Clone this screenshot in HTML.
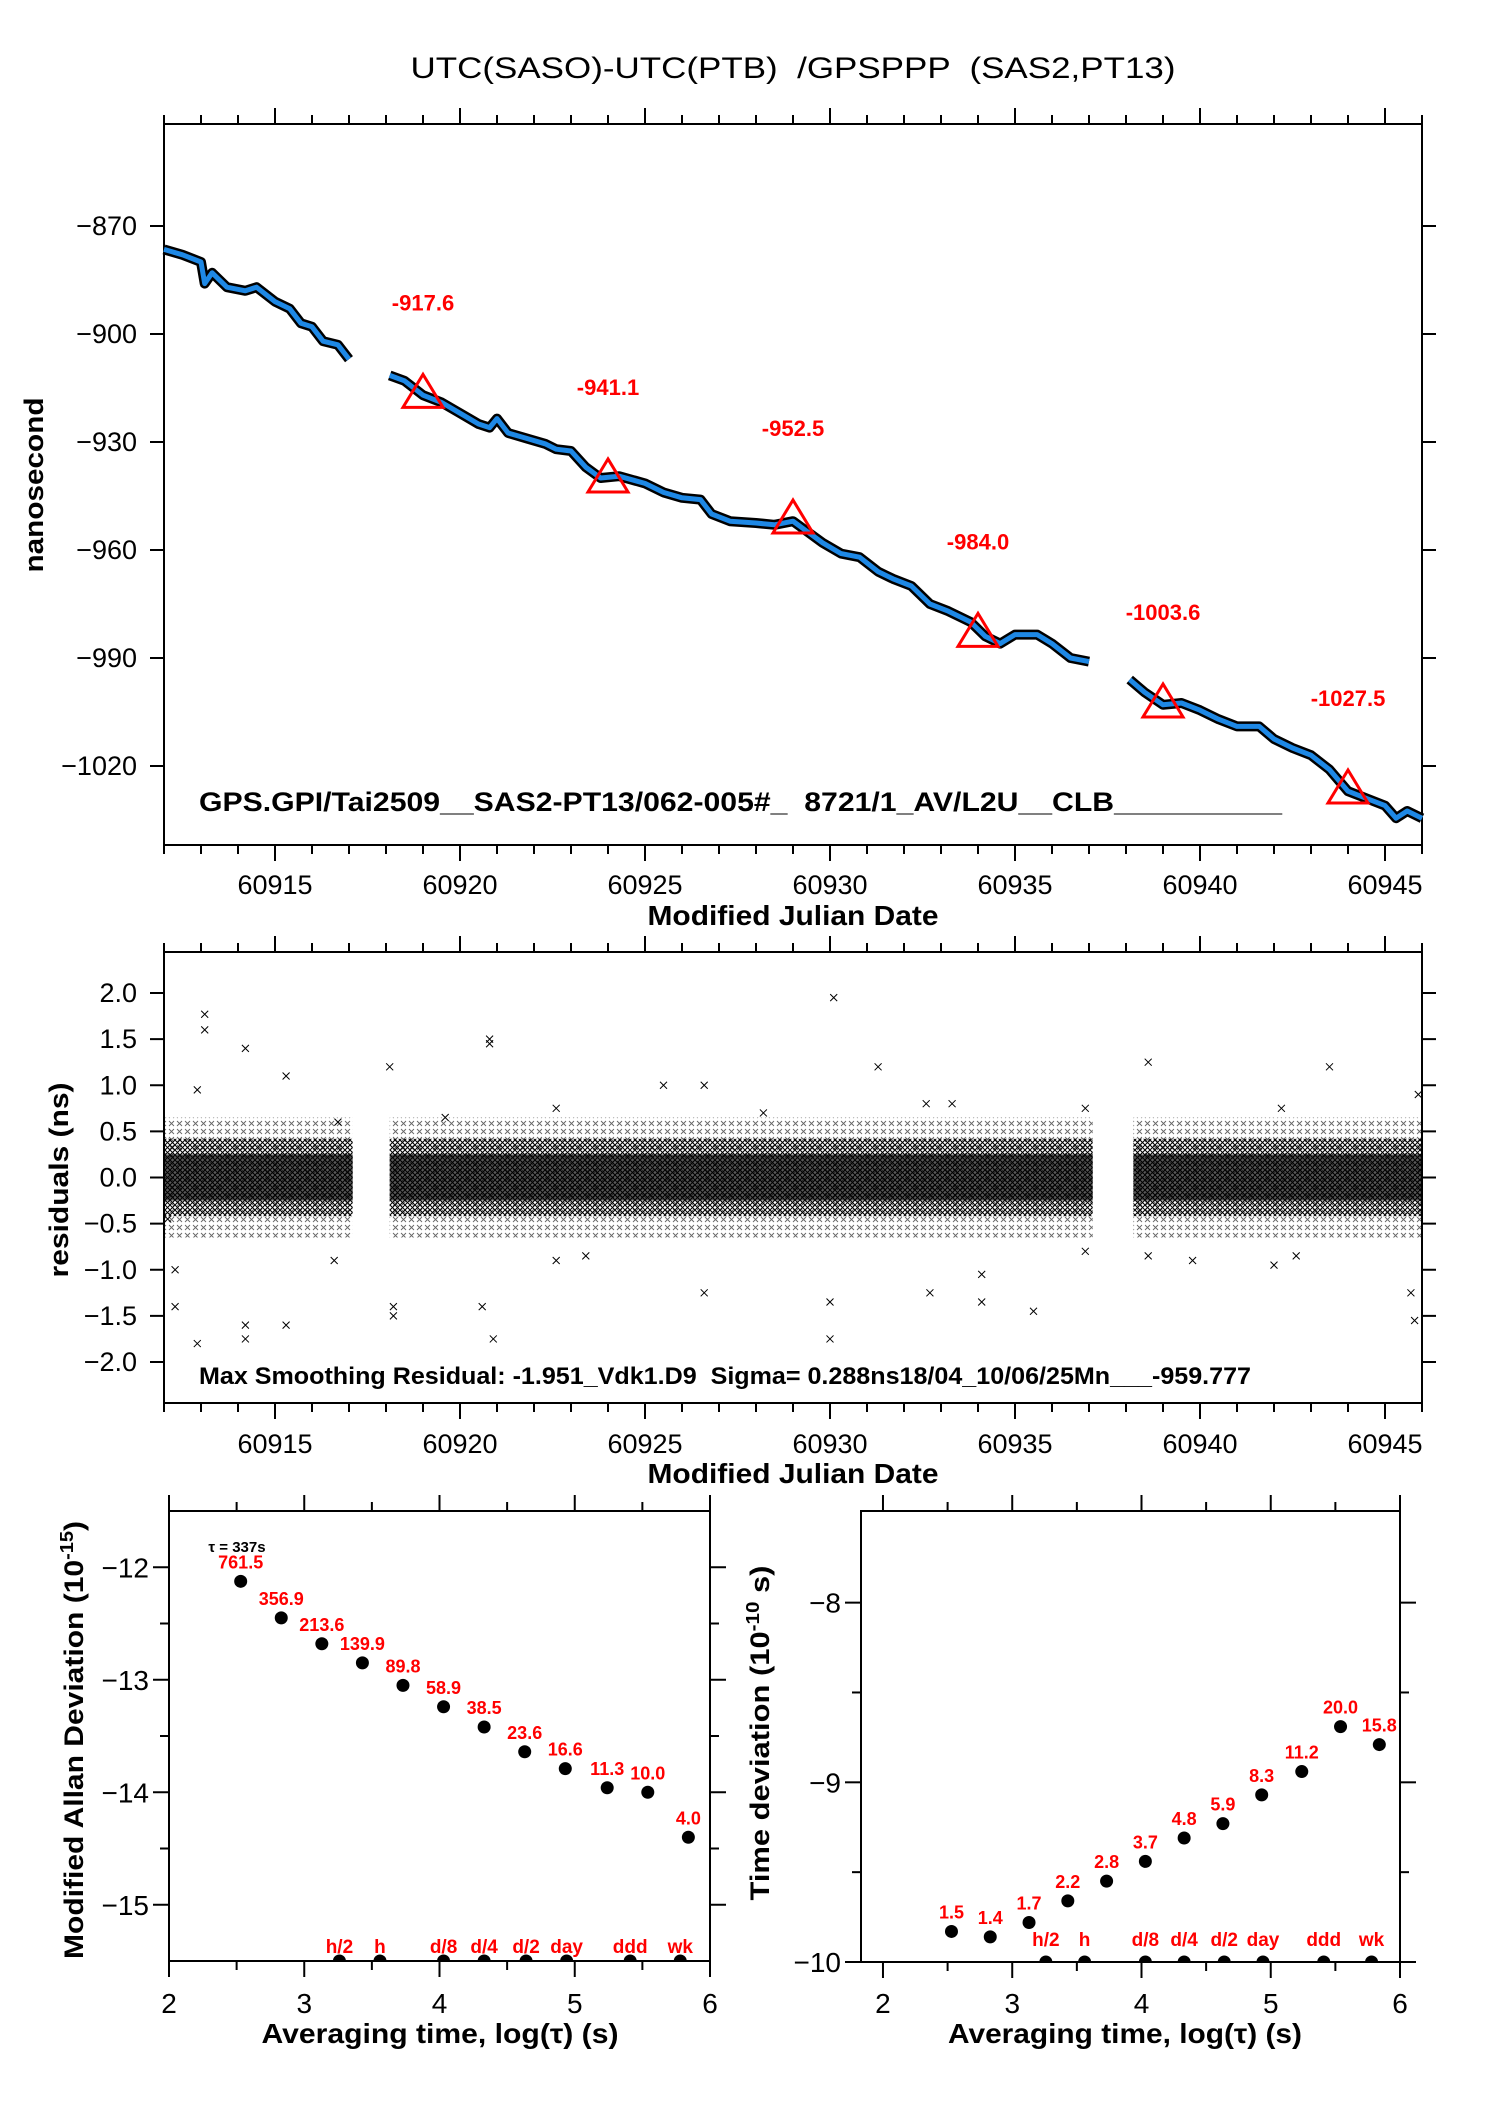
<!DOCTYPE html>
<html><head><meta charset="utf-8">
<style>
html,body{margin:0;padding:0;background:#fff;}
svg{display:block;font-family:"Liberation Sans",sans-serif;}
text{white-space:pre;}
</style></head>
<body>
<svg id="chart" width="1488" height="2105" viewBox="0 0 1488 2105" xmlns="http://www.w3.org/2000/svg" xml:space="preserve">
<defs>
<pattern id="xpat" width="5" height="5" patternUnits="userSpaceOnUse">
<path d="M0 0L5 5M5 0L0 5" stroke="#000" stroke-width="1"/>
</pattern>
<pattern id="xpat2" width="8" height="8" patternUnits="userSpaceOnUse">
<path d="M1 1L6 6M6 1L1 6" stroke="#000" stroke-width="0.9"/>
</pattern>
</defs>
<text x="793" y="78" font-size="30" text-anchor="middle" textLength="765" lengthAdjust="spacingAndGlyphs">UTC(SASO)-UTC(PTB)  /GPSPPP  (SAS2,PT13)</text>
<g id="top"></g><g id="mid"></g><g id="bl"></g><g id="br"></g>
</svg>
<script>
// ---------- data ----------
const seg1=[[60912,-876.5],[60912.5,-878],[60913,-880],[60913.1,-886],[60913.3,-883],[60913.7,-887],[60914.2,-888],[60914.5,-887],[60915,-891],[60915.4,-893],[60915.7,-897],[60916,-898],[60916.3,-902],[60916.7,-903],[60917,-907]];
const seg2=[[60918.1,-911.5],[60918.5,-913],[60919,-917],[60919.5,-919],[60920,-922],[60920.5,-925],[60920.8,-926],[60921,-923.5],[60921.3,-927.5],[60921.8,-929],[60922.3,-930.5],[60922.6,-932],[60923,-932.5],[60923.4,-937],[60923.8,-940],[60924.3,-939.5],[60925,-941.5],[60925.5,-944],[60926,-945.5],[60926.5,-946],[60926.8,-950],[60927.3,-952],[60928,-952.5],[60928.5,-953],[60929,-952],[60929.4,-955],[60929.8,-958],[60930.3,-961],[60930.8,-962],[60931.3,-966],[60931.7,-968],[60932.2,-970],[60932.7,-975],[60933.2,-977],[60933.8,-980],[60934.2,-984],[60934.6,-986],[60935,-983.5],[60935.6,-983.5],[60936,-986],[60936.5,-990],[60937,-991]];
const seg3=[[60938.1,-996],[60938.5,-999.5],[60939,-1003],[60939.5,-1002.5],[60940,-1004.5],[60940.5,-1007],[60941,-1009],[60941.6,-1009],[60942,-1012.5],[60942.5,-1015],[60943,-1017],[60943.5,-1021],[60944,-1027],[60944.5,-1029],[60945,-1031],[60945.3,-1034.5],[60945.6,-1032.5],[60946,-1034.5]];
const triMjd=[60919,60924,60929,60934,60939,60944];
const triVal=[-917.6,-941.1,-952.5,-984.0,-1003.6,-1027.5];
const topYTicks=[-870,-900,-930,-960,-990,-1020];
const mjdTicks=[60915,60920,60925,60930,60935,60940,60945];
const resSegs=[[60912,60917.1],[60918.1,60937.1],[60938.2,60946]];
const outMjd=[60913.1,60913.1,60912.3,60912.3,60912.9,60914.2,60914.2,60914.2,60915.3,60915.3,60916.6,60918.1,60918.2,60918.2,60920.8,60920.8,60920.9,60920.6,60922.6,60922.6,60925.5,60926.6,60926.6,60930.1,60930.0,60930.0,60931.3,60932.7,60934.1,60934.1,60935.5,60936.9,60936.9,60938.6,60938.6,60939.8,60942,60943.5,60945.7,60945.8,60945.9,60942.2,60942.6,60933.3,60923.4,60912.9,60912.1,60916.7,60919.6,60928.2,60932.6];
const outVal=[1.77,1.6,-1.0,-1.4,-1.8,-1.6,-1.75,1.4,1.1,-1.6,-0.9,1.2,-1.4,-1.5,1.5,1.45,-1.75,-1.4,0.75,-0.9,1.0,1.0,-1.25,1.95,-1.75,-1.35,1.2,-1.25,-1.35,-1.05,-1.45,-0.8,0.75,1.25,-0.85,-0.9,-0.95,1.2,-1.25,-1.55,0.9,0.75,-0.85,0.8,-0.85,0.95,-0.45,0.6,0.65,0.7,0.8];
const resYTicks=[2.0,1.5,1.0,0.5,0.0,-0.5,-1.0,-1.5,-2.0];
const resYLabels=["2.0","1.5","1.0","0.5","0.0","\u22120.5","\u22121.0","\u22121.5","\u22122.0"];
const logTau=[2.53,2.83,3.13,3.43,3.73,4.03,4.33,4.63,4.93,5.24,5.54,5.84];
const madev=[-12.125,-12.45,-12.68,-12.85,-13.05,-13.24,-13.42,-13.64,-13.79,-13.96,-14.0,-14.4];
const madevLbl=["761.5","356.9","213.6","139.9","89.8","58.9","38.5","23.6","16.6","11.3","10.0","4.0"];
const tdev=[-9.83,-9.86,-9.78,-9.66,-9.55,-9.44,-9.31,-9.23,-9.07,-8.94,-8.69,-8.79];
const tdevLbl=["1.5","1.4","1.7","2.2","2.8","3.7","4.8","5.9","8.3","11.2","20.0","15.8"];
const markX=[3.26,3.56,4.03,4.33,4.64,4.94,5.41,5.78];
const markLbl=["h/2","h","d/8","d/4","d/2","day","ddd","wk"];
const madevTicks=[-12,-13,-14,-15];
const tdevTicks=[-8,-9,-10];
const logTicks=[2,3,4,5,6];

// ---------- helpers ----------
const NS="http://www.w3.org/2000/svg";
function mk(parent,tag,attrs,txt){const e=document.createElementNS(NS,tag);for(const k in attrs)e.setAttribute(k,attrs[k]);if(txt!==undefined)e.textContent=txt;parent.appendChild(e);return e;}
function lin(d0,d1,r0,r1){return v=>r0+(v-d0)*(r1-r0)/(d1-d0);}
function line(g,x1,y1,x2,y2,w){return mk(g,'line',{x1:x1,y1:y1,x2:x2,y2:y2,stroke:'#000','stroke-width':w||2});}

// ---------- TOP PANEL ----------
const gT=document.getElementById('top');


const TL=164,TR=1422,TT=124,TB=845;
const xT=lin(60912,60946,TL,TR);
const yT=lin(-870,-1020,226,766);
let fr=mk(gT,'rect',{x:TL,y:TT,width:TR-TL,height:TB-TT,fill:'none',stroke:'#000','stroke-width':2});


for(let m=60912;m<=60946;m++){
  const major=(m%5===0);const L=major?16:9;
  line(gT,xT(m),TB,xT(m),TB+L,2);
  line(gT,xT(m),TT,xT(m),TT-L,2);
}
mjdTicks.forEach(m=>{
  const t=mk(gT,'text',{x:xT(m),y:894,'font-size':27,'text-anchor':'middle'},String(m));
  
  
});
topYTicks.forEach(v=>{
  line(gT,TL-14,yT(v),TL,yT(v),2);
  line(gT,TR,yT(v),TR+14,yT(v),2);
  const t=mk(gT,'text',{x:137,y:yT(v)+9,'font-size':27,'text-anchor':'end'},String(v).replace('-','\u2212'));
  
  
});
[seg1,seg2,seg3].forEach((s,i)=>{
  const d=s.map((p,j)=>(j?'L':'M')+xT(p[0]).toFixed(1)+' '+yT(p[1]).toFixed(1)).join(' ');
  const b=mk(gT,'path',{d:d,fill:'none',stroke:'#000','stroke-width':10,'stroke-linejoin':'round'});
  
  
  const p=mk(gT,'path',{d:d,fill:'none',stroke:'#1e88e5','stroke-width':5,'stroke-linejoin':'round'});
  
  
});
triMjd.forEach((m,i)=>{
  const cx=xT(m),cy=yT(triVal[i]);
  const t=mk(gT,'path',{d:`M${cx} ${cy-23}L${cx+20} ${cy+10}L${cx-20} ${cy+10}Z`,fill:'none',stroke:'#ff0000','stroke-width':3});
  
  
  const l=mk(gT,'text',{x:cx,y:cy-87,'font-size':22,'font-weight':'bold',fill:'#ff0000','text-anchor':'middle'},triVal[i].toFixed(1));
  
  
});
let tx=mk(gT,'text',{x:199,y:811,'font-size':27,'font-weight':'bold',textLength:1083,lengthAdjust:'spacingAndGlyphs'},'GPS.GPI/Tai2509__SAS2-PT13/062-005#_  8721/1_AV/L2U__CLB__________');


tx=mk(gT,'text',{x:793,y:925,'font-size':28,'font-weight':'bold','text-anchor':'middle',textLength:291,lengthAdjust:'spacingAndGlyphs'},'Modified Julian Date');


tx=mk(gT,'text',{x:0,y:0,'font-size':27,'font-weight':'bold','text-anchor':'middle',transform:'translate(43,485) rotate(-90)',textLength:175,lengthAdjust:'spacingAndGlyphs'},'nanosecond');



// ---------- MIDDLE PANEL ----------
const gM=document.getElementById('mid');


const MT=952,MB=1403;
const yM=lin(2,-2,993,1362);
fr=mk(gM,'rect',{x:TL,y:MT,width:TR-TL,height:MB-MT,fill:'none',stroke:'#000','stroke-width':2});


for(let m=60912;m<=60946;m++){
  const major=(m%5===0);const L=major?16:9;
  line(gM,xT(m),MB,xT(m),MB+L,2);
  line(gM,xT(m),MT,xT(m),MT-L,2);
}
mjdTicks.forEach(m=>{
  const t=mk(gM,'text',{x:xT(m),y:1453,'font-size':27,'text-anchor':'middle'},String(m));
  
  
});
resYTicks.forEach((v,i)=>{
  line(gM,TL-14,yM(v),TL,yM(v),2);
  line(gM,TR,yM(v),TR+14,yM(v),2);
  const t=mk(gM,'text',{x:137,y:yM(v)+9,'font-size':27,'text-anchor':'end'},resYLabels[i]);
  
  
});
resSegs.forEach(s=>{
  const x0=xT(s[0]),w=xT(s[1])-x0;
  let r=mk(gM,'rect',{x:x0,y:yM(0.65),width:w,height:yM(-0.65)-yM(0.65),fill:'url(#xpat2)',opacity:0.6});
  
  
  r=mk(gM,'rect',{x:x0,y:yM(0.42),width:w,height:yM(-0.42)-yM(0.42),fill:'url(#xpat)'});
  
  
  r=mk(gM,'rect',{x:x0,y:yM(0.25),width:w,height:yM(-0.25)-yM(0.25),fill:'#000',opacity:0.65});
  
  
});
outMjd.forEach((m,i)=>{
  const cx=xT(m),cy=yM(outVal[i]);
  const p=mk(gM,'path',{d:`M${cx-3.5} ${cy-3.5}L${cx+3.5} ${cy+3.5}M${cx+3.5} ${cy-3.5}L${cx-3.5} ${cy+3.5}`,stroke:'#000','stroke-width':1});
  
  
});
tx=mk(gM,'text',{x:199,y:1384,'font-size':24,'font-weight':'bold',textLength:1052,lengthAdjust:'spacingAndGlyphs'},'Max Smoothing Residual: -1.951_Vdk1.D9  Sigma= 0.288ns18/04_10/06/25Mn___-959.777');


tx=mk(gM,'text',{x:793,y:1483,'font-size':28,'font-weight':'bold','text-anchor':'middle',textLength:291,lengthAdjust:'spacingAndGlyphs'},'Modified Julian Date');


tx=mk(gM,'text',{x:0,y:0,'font-size':27,'font-weight':'bold','text-anchor':'middle',transform:'translate(68,1180) rotate(-90)',textLength:195,lengthAdjust:'spacingAndGlyphs'},'residuals (ns)');



// ---------- BOTTOM PANELS ----------
function stabPanel(g,L,R,T,B,xd0,xd1,yd0,yd1,yTicks,minorStep,vals,lbls,title,titleX,titleLen,ylab,ylabX,ylabLen,ylabCy,markBase,prefix){
  const x=lin(xd0,xd1,L,R), y=lin(yd0,yd1,B,T);
  let f=mk(g,'rect',{x:L,y:T,width:R-L,height:B-T,fill:'none',stroke:'#000','stroke-width':2});
  
  
  for(let v=2;v<=6.001;v+=0.5){
    const major=Math.abs(v-Math.round(v))<0.01;const Ln=major?16:9;
    line(g,x(v),B,x(v),B+Ln,2);line(g,x(v),T,x(v),T-Ln,2);
  }
  logTicks.forEach(v=>{
    const t=mk(g,'text',{x:x(v),y:2013,'font-size':28,'text-anchor':'middle'},String(v));
    
    
  });
  for(let v=yTicks[0];v>=yTicks[yTicks.length-1]-0.001;v-=minorStep){
    const major=yTicks.some(t=>Math.abs(t-v)<0.01);const Ln=major?16:9;
    line(g,L-Ln,y(v),L,y(v),2);line(g,R,y(v),R+Ln,y(v),2);
  }
  yTicks.forEach(v=>{
    const t=mk(g,'text',{x:L-20,y:y(v)+10,'font-size':28,'text-anchor':'end'},String(v).replace('-','\u2212'));
    
    
  });
  logTau.forEach((lt,i)=>{
    const c=mk(g,'circle',{cx:x(lt),cy:y(vals[i]),r:6.5,fill:'#000'});
    
    
    const l=mk(g,'text',{x:x(lt),y:y(vals[i])-13,'font-size':18,'font-weight':'bold',fill:'#ff0000','text-anchor':'middle'},lbls[i]);
    
    
  });
  markX.forEach((mx,i)=>{
    const c=mk(g,'path',{d:`M${x(mx)-6.5} ${B}A6.5 6.5 0 0 1 ${x(mx)+6.5} ${B}Z`,fill:'#000'});
    
    
    const l=mk(g,'text',{x:x(mx),y:markBase,'font-size':19,'font-weight':'bold',fill:'#ff0000','text-anchor':'middle'},markLbl[i]);
    
    
  });
  let t=mk(g,'text',{x:titleX,y:2043,'font-size':28,'font-weight':'bold','text-anchor':'middle',textLength:titleLen,lengthAdjust:'spacingAndGlyphs'},title);
  
  
  t=mk(g,'text',{x:0,y:0,'font-size':27,'font-weight':'bold','text-anchor':'middle',transform:`translate(${ylabX},${ylabCy}) rotate(-90)`,textLength:ylabLen,lengthAdjust:'spacingAndGlyphs'});
  
  
  t.innerHTML=ylab;
  return {x,y};
}
const gBL=document.getElementById('bl');


stabPanel(gBL,169,710,1511,1961,2,6,-15.5,-11.5,madevTicks,0.5,madev,madevLbl,'Averaging time, log(\u03c4) (s)',440,357,
 'Modified Allan Deviation (10<tspan font-size="18" dy="-10">-15</tspan><tspan dy="10">)</tspan>',83,438,1740,1953,'madev');
let tau=mk(gBL,'text',{x:237,y:1552,'font-size':15,'font-weight':'bold','text-anchor':'middle'},'\u03c4 = 337s');



const gBR=document.getElementById('br');


stabPanel(gBR,861,1400,1511,1962,1.83,6,-10,-7.49,tdevTicks,0.5,tdev,tdevLbl,'Averaging time, log(\u03c4) (s)',1125,354,
 'Time deviation (10<tspan font-size="18" dy="-10">-10</tspan><tspan dy="10"> s)</tspan>',769,335,1733,1946,'tdev');
</script>
</body></html>
